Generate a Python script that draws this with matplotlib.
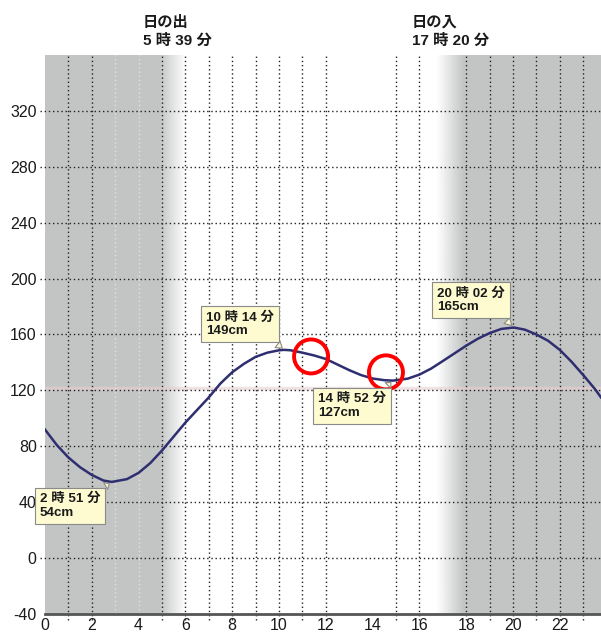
import numpy as np
import matplotlib
matplotlib.use('Agg')
import matplotlib.pyplot as plt

plt.rcParams['axes.unicode_minus'] = False

# tide level (hour, cm)
hours = [0, 0.5, 1, 1.5, 2, 2.5, 2.85, 3.5, 4, 4.5, 5, 5.5, 6, 6.5, 7, 7.5,
         8, 8.5, 9, 9.5, 10, 10.23, 10.5, 11, 11.5, 12, 12.5, 13, 13.5, 14,
         14.5, 14.87, 15.5, 16, 16.5, 17, 17.5, 18, 18.5, 19, 19.5, 20.03,
         20.5, 21, 21.5, 22, 22.5, 23, 23.5, 23.76]
levels = [92, 81, 72, 65, 59.5, 55.5, 54.5, 56.5, 61, 68, 77, 87, 97, 106,
          115, 125, 133, 139, 144, 147, 148.7, 149, 148.7, 147, 145, 142.5,
          138.5, 134.5, 131, 128.5, 127.3, 127, 128.4, 131.3, 135.6, 141,
          146.5, 152, 157, 161, 164, 165, 163.5, 160, 155.5, 149, 140.5,
          131, 121, 115]

# high / low water
event_hour = [2, 10, 14, 20]
event_min = [51, 14, 52, 2]
event_level = [54, 149, 127, 165]

sunrise = (5, 39)
sunset = (17, 20)

circle_hours = [11.37, 14.57]
circle_levels = [144.3, 132.9]

y_ticks = [-40, 0, 40, 80, 120, 160, 200, 240, 280, 320]
x_ticks = [0, 2, 4, 6, 8, 10, 12, 14, 16, 18, 20, 22]

XMAX = 23.76
YMIN, YMAX = -40, 360
GREY = np.array([0.765, 0.773, 0.773])
FONT = ['Liberation Sans', 'Noto Sans CJK JP', 'DejaVu Sans']

fig = plt.figure(figsize=(6.01, 6.32), dpi=100)
ax = fig.add_axes([45 / 601, 18 / 632, 1 - 45 / 601, (614 - 55) / 632])

# night shading with soft edges around sunrise / sunset
t = np.linspace(0, XMAX, 1200)
d = np.clip((6.0 - t) / 1.1, 0, 1) + np.clip((t - 16.75) / 1.15, 0, 1)
img = (1 - d)[:, None] * np.ones(3) + d[:, None] * GREY
ax.imshow(img[None, :, :], extent=[0, XMAX, YMIN, YMAX], aspect='auto', zorder=0)

# faint mean level line
ax.axhline(121.5, color='#e8cfd1', lw=2.5, alpha=0.6, zorder=1)

# grid
dots = (0, (1, 2))
strong = [1, 2, 5, 6, 7, 8, 9, 10, 11, 12, 15, 16, 18, 19, 20, 21, 22, 23]
faint = [3, 4, 13, 14, 17]
ax.vlines(strong, YMIN - 4, YMAX, colors='#222222', lw=1, linestyles=dots,
          clip_on=False, zorder=2)
ax.vlines(faint, YMIN, YMAX, colors='white', lw=1, linestyles=dots,
          alpha=0.5, zorder=2)
ax.hlines(y_ticks[1:], -0.22, XMAX, colors='#222222', lw=1, linestyles=dots,
          clip_on=False, zorder=2)

ax.plot(hours, levels, color='#2e2e70', lw=1.8, zorder=4)

ax.scatter(circle_hours, circle_levels, s=600, facecolors='none',
           edgecolors='#ff0000', linewidths=2.8, zorder=6)

# callout boxes
text_pos = [(-0.22, 46.8), (6.88, 176.8), (11.66, 118.3), (16.75, 194.0)]
rel = [(0.88, 1), (0.92, 0), (0.92, 1), (0.92, 0)]
for h, m, v, (tx, ty), rp in zip(event_hour, event_min, event_level, text_pos, rel):
    t_ev = h + m / 60
    ax.annotate(f'{h} 時 {m:02d} 分\n{v}cm', xy=(t_ev, v), xytext=(tx, ty),
                ha='left', va='top', fontsize=9.6, fontweight='bold',
                family=FONT, color='#1a1a1a', linespacing=1.2,
                annotation_clip=False, zorder=7,
                bbox=dict(boxstyle='square,pad=0.38', fc='#fdfbcf', ec='#8a8a8a', lw=0.8),
                arrowprops=dict(arrowstyle='wedge,tail_width=0.6', fc='#fdfbcf',
                                ec='#8a8a8a', lw=0.8, relpos=rp))

# sunrise / sunset labels
for name, (h, m) in [('日の出', sunrise), ('日の入', sunset)]:
    ax.text(h + m / 60, 1.012, f'{name}\n{h} 時 {m} 分', transform=ax.get_xaxis_transform(),
            ha='center', va='bottom', multialignment='left', fontsize=11,
            fontweight='bold', family=FONT, color='#1a1a1a', linespacing=1.4)

ax.set_xlim(0, XMAX)
ax.set_ylim(YMIN, YMAX)
ax.set_xticks(x_ticks)
ax.set_yticks(y_ticks)
ax.tick_params(axis='both', length=0, labelsize=11.5, colors='#1a1a1a')
ax.tick_params(axis='x', pad=3)
ax.tick_params(axis='y', pad=6)
for lab in ax.get_xticklabels() + ax.get_yticklabels():
    lab.set_family(FONT)

for s in ['top', 'right', 'left']:
    ax.spines[s].set_visible(False)
ax.spines['bottom'].set_color('#555555')
ax.spines['bottom'].set_linewidth(2)
ax.spines['bottom'].set_zorder(5)

fig.savefig('out.png', dpi=100)
